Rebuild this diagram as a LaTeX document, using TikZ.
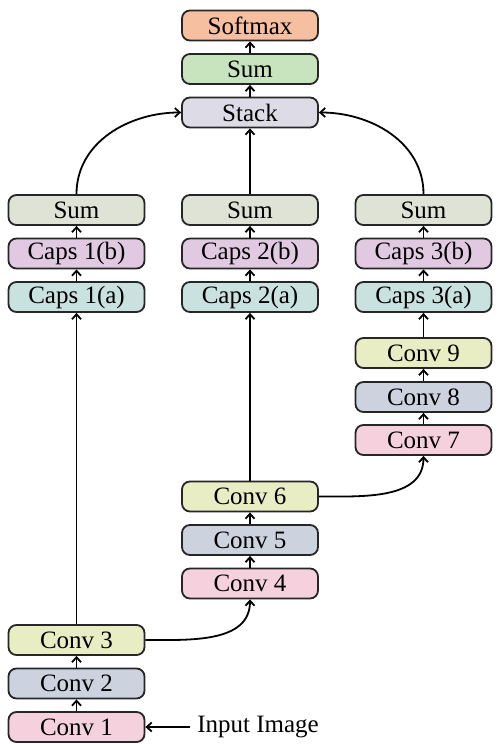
\documentclass[tikz,border=0pt]{standalone}
\usepackage{fontspec}
\setmainfont{Liberation Serif}
\usepackage{tikz}
\usetikzlibrary{arrows.meta}
\definecolor{softmaxc}{HTML}{F5BFA0}
\definecolor{sumtopc}{HTML}{C8E4BE}
\definecolor{stackc}{HTML}{DCDBE6}
\definecolor{sumc}{HTML}{DFE3D5}
\definecolor{capsbc}{HTML}{E2C9E2}
\definecolor{capsac}{HTML}{C9E1DF}
\definecolor{convyc}{HTML}{E9EDC4}
\definecolor{convbc}{HTML}{CCD3DF}
\definecolor{convpc}{HTML}{F5D1DD}

\begin{document}
\begin{tikzpicture}[x=0.5pt,y=0.5pt,>={Straight Barb[length=2.5pt,width=4.5pt]},
  blk/.style={draw=black!85,line width=0.9pt,rounded corners=4pt,minimum width=68pt,
    minimum height=15pt,inner sep=0pt,font=\fontsize{12.5}{14}\selectfont},
  link/.style={->,line width=0.9pt}]
  \useasboundingbox (0,0) rectangle (498,744);
  % head
  \node[blk,fill=softmaxc] (softmax) at (250,718.5) {Softmax};
  \node[blk,fill=sumtopc]  (sumtop)  at (250,675) {Sum};
  \node[blk,fill=stackc]   (stack)   at (250,631.5) {Stack};
  % capsule columns
  \node[blk,fill=sumc]   (sum1)  at (76.5,534) {Sum};
  \node[blk,fill=capsbc] (caps1b) at (76.5,490.5) {Caps 1(b)};
  \node[blk,fill=capsac] (caps1a) at (76.5,447) {Caps 1(a)};
  \node[blk,fill=sumc]   (sum2)  at (250,534) {Sum};
  \node[blk,fill=capsbc] (caps2b) at (250,490.5) {Caps 2(b)};
  \node[blk,fill=capsac] (caps2a) at (250,447) {Caps 2(a)};
  \node[blk,fill=sumc]   (sum3)  at (423.5,534) {Sum};
  \node[blk,fill=capsbc] (caps3b) at (423.5,490.5) {Caps 3(b)};
  \node[blk,fill=capsac] (caps3a) at (423.5,447) {Caps 3(a)};
  % conv stacks
  \node[blk,fill=convyc] (conv9) at (423.5,391) {Conv 9};
  \node[blk,fill=convbc] (conv8) at (423.5,347) {Conv 8};
  \node[blk,fill=convpc] (conv7) at (423.5,304) {Conv 7};
  \node[blk,fill=convyc] (conv6) at (250,247.5) {Conv 6};
  \node[blk,fill=convbc] (conv5) at (250,204) {Conv 5};
  \node[blk,fill=convpc] (conv4) at (250,160.5) {Conv 4};
  \node[blk,fill=convyc] (conv3) at (76.5,104) {Conv 3};
  \node[blk,fill=convbc] (conv2) at (76.5,60.5) {Conv 2};
  \node[blk,fill=convpc] (conv1) at (76.5,17) {Conv 1};
  \node[font=\fontsize{12.5}{14}\selectfont] (input) at (258,17) {Input Image};

  \draw[link] (input) -- (conv1);
  \draw[link] (conv1) -- (conv2);
  \draw[link] (conv2) -- (conv3);
  \draw[link] (conv3) -- (caps1a);
  \draw[link] (conv3.east) to[out=0,in=-90] (conv4.south);
  \draw[link] (conv4) -- (conv5);
  \draw[link] (conv5) -- (conv6);
  \draw[link] (conv6) -- (caps2a);
  \draw[link] (conv6.east) to[out=0,in=-90] (conv7.south);
  \draw[link] (conv7) -- (conv8);
  \draw[link] (conv8) -- (conv9);
  \draw[link] (conv9) -- (caps3a);
  \draw[link] (caps1a) -- (caps1b);
  \draw[link] (caps1b) -- (sum1);
  \draw[link] (caps2a) -- (caps2b);
  \draw[link] (caps2b) -- (sum2);
  \draw[link] (caps3a) -- (caps3b);
  \draw[link] (caps3b) -- (sum3);
  \draw[link] (sum1.north) to[out=90,in=180] (stack.west);
  \draw[link] (sum2) -- (stack);
  \draw[link] (sum3.north) to[out=90,in=0] (stack.east);
  \draw[link] (stack) -- (sumtop);
  \draw[link] (sumtop) -- (softmax);
\end{tikzpicture}
\end{document}
